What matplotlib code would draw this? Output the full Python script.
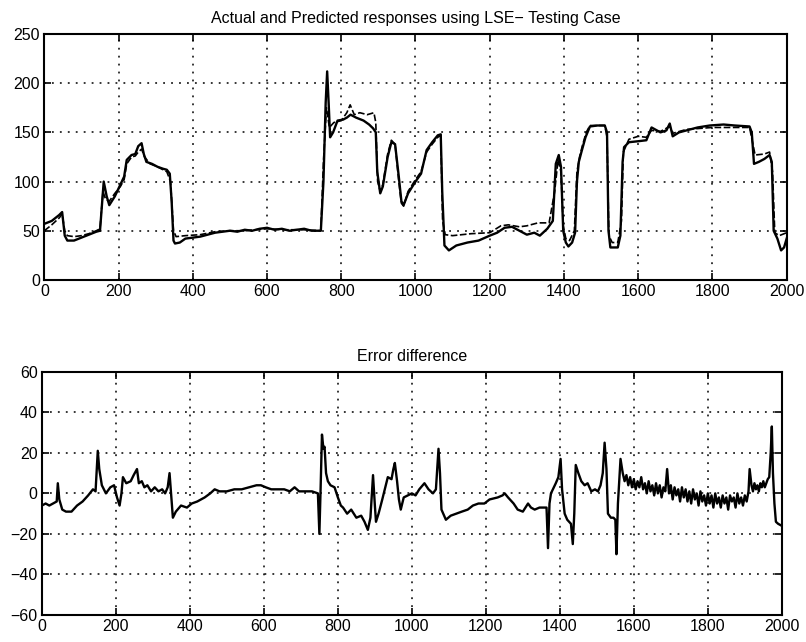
# Actual vs predicted responses (LSE, testing case) + error difference
# two stacked panels, MATLAB-like look (inward ticks, dotted grid)

import numpy as np
import matplotlib.pyplot as plt

# ---- data ----
# actual response (solid)
actual_x = [0, 20, 40, 48, 55, 62, 80, 100, 120, 140, 150, 155, 160, 168, 175, 190, 205, 215,
            222, 235, 245, 253, 262, 268, 275, 290, 305, 320, 330, 338, 343, 348, 352, 365,
            380, 400, 420, 440, 460, 480, 500, 520, 540, 560, 580, 600, 620, 640, 660, 680,
            700, 720, 745, 752, 758, 762, 766, 770, 778, 790, 805, 815, 825, 840, 860, 875,
            886, 893, 897, 905, 912, 925, 935, 945, 955, 962, 968, 980, 1000, 1015, 1030,
            1045, 1060, 1068, 1072, 1078, 1090, 1110, 1140, 1170, 1200, 1220, 1240, 1260,
            1280, 1300, 1320, 1335, 1355, 1370, 1378, 1386, 1392, 1398, 1405, 1412, 1422,
            1430, 1435, 1440, 1447, 1458, 1470, 1490, 1510, 1516, 1520, 1525, 1545, 1552,
            1558, 1562, 1575, 1600, 1622, 1636, 1660, 1676, 1685, 1693, 1710, 1730, 1760,
            1793, 1830, 1860, 1900, 1906, 1912, 1925, 1940, 1954, 1960, 1965, 1975, 1985,
            1993, 2000]
actual_y = [57, 60, 66, 69, 45, 40, 40, 43, 46, 49, 50, 75, 100, 85, 76, 85, 97, 105,
            122, 127, 128, 136, 139, 128, 120, 118, 115, 113, 112, 108, 80, 40, 37, 38,
            42, 43, 44, 46, 48, 49, 50, 49, 51, 50, 52, 53, 51, 52, 50, 51,
            52, 50, 50, 100, 180, 212, 180, 145, 150, 162, 163, 165, 168, 165, 162, 158,
            154, 150, 110, 88, 95, 125, 140, 138, 105, 80, 76, 88, 100, 108, 132,
            140, 147, 148, 90, 35, 30, 35, 38, 40, 45, 48, 53, 54,
            50, 46, 48, 45, 52, 60, 118, 127, 115, 50, 38, 34, 38,
            48, 100, 120, 130, 145, 156, 157, 157, 150, 50, 33, 33, 45,
            120, 135, 140, 141, 142, 155, 150, 152, 159, 146, 150, 152, 155,
            157, 158, 157, 156, 150, 118, 120, 123, 127, 120, 50, 42, 30,
            33, 42]

# predicted response (dashed)
pred_x = [0, 20, 40, 48, 55, 62, 80, 100, 120, 140, 150, 158, 165, 175, 190, 205, 215, 222,
          235, 245, 253, 262, 270, 285, 305, 320, 330, 340, 348, 355, 380, 420, 460, 500,
          540, 600, 650, 700, 745, 752, 760, 768, 780, 800, 815, 824, 835, 850, 870, 888,
          893, 898, 905, 912, 925, 935, 945, 955, 962, 968, 980, 1000, 1015, 1030, 1045,
          1060, 1068, 1073, 1080, 1100, 1150, 1200, 1230, 1250, 1280, 1300, 1330, 1360,
          1375, 1384, 1392, 1398, 1405, 1415, 1428, 1435, 1442, 1450, 1460, 1470, 1510,
          1516, 1521, 1530, 1545, 1555, 1560, 1575, 1600, 1622, 1636, 1660, 1685, 1693,
          1730, 1800, 1900, 1908, 1915, 1940, 1954, 1962, 1968, 1980, 2000]
pred_y = [50, 56, 63, 67, 50, 45, 44, 45, 47, 50, 52, 90, 82, 80, 88, 95, 102, 118,
          125, 126, 130, 133, 125, 118, 115, 112, 110, 100, 50, 44, 45, 46, 49, 50,
          50, 52, 51, 51, 50, 120, 175, 155, 160, 162, 170, 178, 168, 170, 168, 170,
          160, 100, 90, 97, 128, 142, 138, 100, 78, 75, 90, 102, 110, 130, 138,
          145, 147, 60, 46, 45, 47, 48, 55, 56, 54, 55, 58, 58,
          90, 122, 110, 55, 42, 40, 50, 110, 125, 137, 150, 157, 157,
          145, 45, 38, 38, 60, 130, 143, 146, 145, 152, 151, 156, 149,
          153, 155, 155, 140, 127, 128, 130, 110, 48, 45, 48]

# error difference (10 points per line, x and y lines match)
err_x = [0, 10, 20, 30, 40, 43, 47, 55, 65, 80,
         95, 110, 125, 138, 145, 151, 155, 162, 173, 185,
         195, 203, 210, 215, 219, 228, 240, 248, 257, 262,
         270, 277, 285, 295, 305, 315, 325, 333, 340, 345,
         349, 354, 362, 376, 392, 405, 420, 440, 455, 467,
         480, 500, 520, 540, 560, 580, 592, 605, 620, 638,
         655, 670, 683, 695, 710, 730, 746, 750, 753, 757,
         761, 764, 768, 773, 780, 791, 800, 808, 814, 825,
         836, 850, 863, 872, 881, 888, 895, 900, 903, 910,
         920, 935, 945, 950, 954, 960, 965, 970, 978, 989,
         1000, 1010, 1020, 1034, 1045, 1057, 1065, 1072, 1076, 1080,
         1092, 1105, 1120, 1135, 1151, 1165, 1180, 1196, 1210, 1232,
         1245, 1251, 1260, 1275, 1286, 1300, 1314, 1322, 1332, 1345,
         1358, 1364, 1368, 1372, 1376, 1389, 1396, 1402, 1406, 1413,
         1420, 1430, 1435, 1439, 1443, 1450, 1458, 1467, 1475, 1485,
         1495, 1503, 1510, 1516, 1521, 1526, 1530, 1538, 1545, 1550,
         1553, 1557, 1564, 1570, 1575, 1580, 1585, 1590, 1595, 1600,
         1605, 1610, 1615, 1620, 1625, 1630, 1635, 1640, 1645, 1650,
         1655, 1660, 1665, 1670, 1675, 1680, 1685, 1690, 1695, 1700,
         1705, 1710, 1715, 1720, 1725, 1730, 1735, 1740, 1745, 1750,
         1755, 1760, 1765, 1770, 1775, 1780, 1785, 1790, 1795, 1800,
         1805, 1810, 1815, 1820, 1825, 1830, 1835, 1840, 1845, 1850,
         1855, 1860, 1865, 1870, 1875, 1880, 1885, 1890, 1895, 1900,
         1905, 1910, 1913, 1918, 1922, 1926, 1930, 1934, 1938, 1942,
         1946, 1950, 1954, 1958, 1962, 1966, 1970, 1973, 1976, 1980,
         1984, 1990, 2000]
err_y = [-6, -5, -6, -5, -4, 5, -3, -8, -9, -9,
         -6, -4, -1, 2, 1, 21, 12, 4, 0, 3,
         4, -2, -6, 0, 8, 5, 6, 9, 12, 5,
         6, 3, 4, 1, 3, 1, 2, 0, 3, 10,
         0, -12, -9, -6, -7, -5, -4, -2, 0, 2,
         1, 1, 2, 2, 3, 4, 4, 3, 2, 2,
         2, 1, 3, 1, 1, 1, 0, -20, 0, 29,
         22, 23, 10, 6, 4, 3, -2, -6, -7, -10,
         -8, -12, -11, -14, -18, -12, 9, -6, -14, -10,
         -3, 8, 7, 12, 15, 6, -3, -8, -2, -1,
         0, -1, 2, 5, 2, 0, 2, 22, 10, -8,
         -13, -11, -10, -9, -8, -6, -5, -5, -3, -2,
         -1, 0, -2, -5, -8, -9, -5, -7, -8, -7,
         -7, -7, -27, -5, 0, 5, 8, 17, 2, -10,
         -13, -15, -25, -10, 14, 10, 6, 4, 5, 1,
         2, 1, 4, 10, 25, 12, -10, -12, -12, -13,
         -30, -5, 17, 10, 6, 9, 4, 8, 3, 7,
         2, 6, 3, 8, 2, 5, 0, 6, 1, 4,
         -1, 5, 0, 4, -2, 3, 1, 12, 0, 4,
         -3, 3, -1, 2, -4, 3, -2, 2, -4, 1,
         -5, 2, -3, 0, -6, 1, -4, -1, -6, 0,
         -5, -1, -7, 0, -5, -2, -7, -1, -5, -2,
         -8, -1, -4, -2, -7, 0, -5, -2, -6, -1,
         -4, 1, 12, 4, 1, 5, 2, 4, 1, 5,
         3, 6, 3, 5, 7, 8, 20, 33, 10, -5,
         -14, -15, -16]

top_title = 'Actual and Predicted responses using LSE\u2212 Testing Case'
bottom_title = 'Error difference'
x_ticks = [0, 200, 400, 600, 800, 1000, 1200, 1400, 1600, 1800, 2000]
top_yticks = [0, 50, 100, 150, 200, 250]
err_yticks = [-60, -40, -20, 0, 20, 40, 60]

# ---- look ----
plt.rc('font', family=['Liberation Sans', 'DejaVu Sans'], size=11.5)

fig = plt.figure(figsize=(8.06, 6.42), dpi=100)
ax1 = fig.add_axes([0.055, 0.564, 0.921, 0.383])
ax2 = fig.add_axes([0.052, 0.042, 0.918, 0.379])

grid_style = dict(color='k', linestyle=(0, (1.2, 4)), linewidth=1.1)

def matlab_axes(ax, yticks, ylim):
    ax.set_xlim(0, 2000)
    ax.set_ylim(*ylim)
    ax.set_xticks(x_ticks)
    ax.set_yticks(yticks)
    ax.tick_params(direction='in', top=True, right=True, length=5, width=1.2,
                   labelsize=11.5, pad=3)
    ax.grid(True, **grid_style)
    for s in ax.spines.values():
        s.set_linewidth(1.5)

ax1.plot(actual_x, actual_y, color='k', lw=1.7)
ax1.plot(pred_x, pred_y, color='k', lw=1.2, linestyle=(0, (4, 1.5)))
matlab_axes(ax1, top_yticks, (0, 250))
ax1.set_title(top_title, fontsize=11.5, pad=8)

ax2.plot(err_x, err_y, color='k', lw=1.7)
matlab_axes(ax2, err_yticks, (-60, 60))
ax2.set_title(bottom_title, fontsize=11.5, pad=8)

fig.savefig('out.png', dpi=100, facecolor='w')
